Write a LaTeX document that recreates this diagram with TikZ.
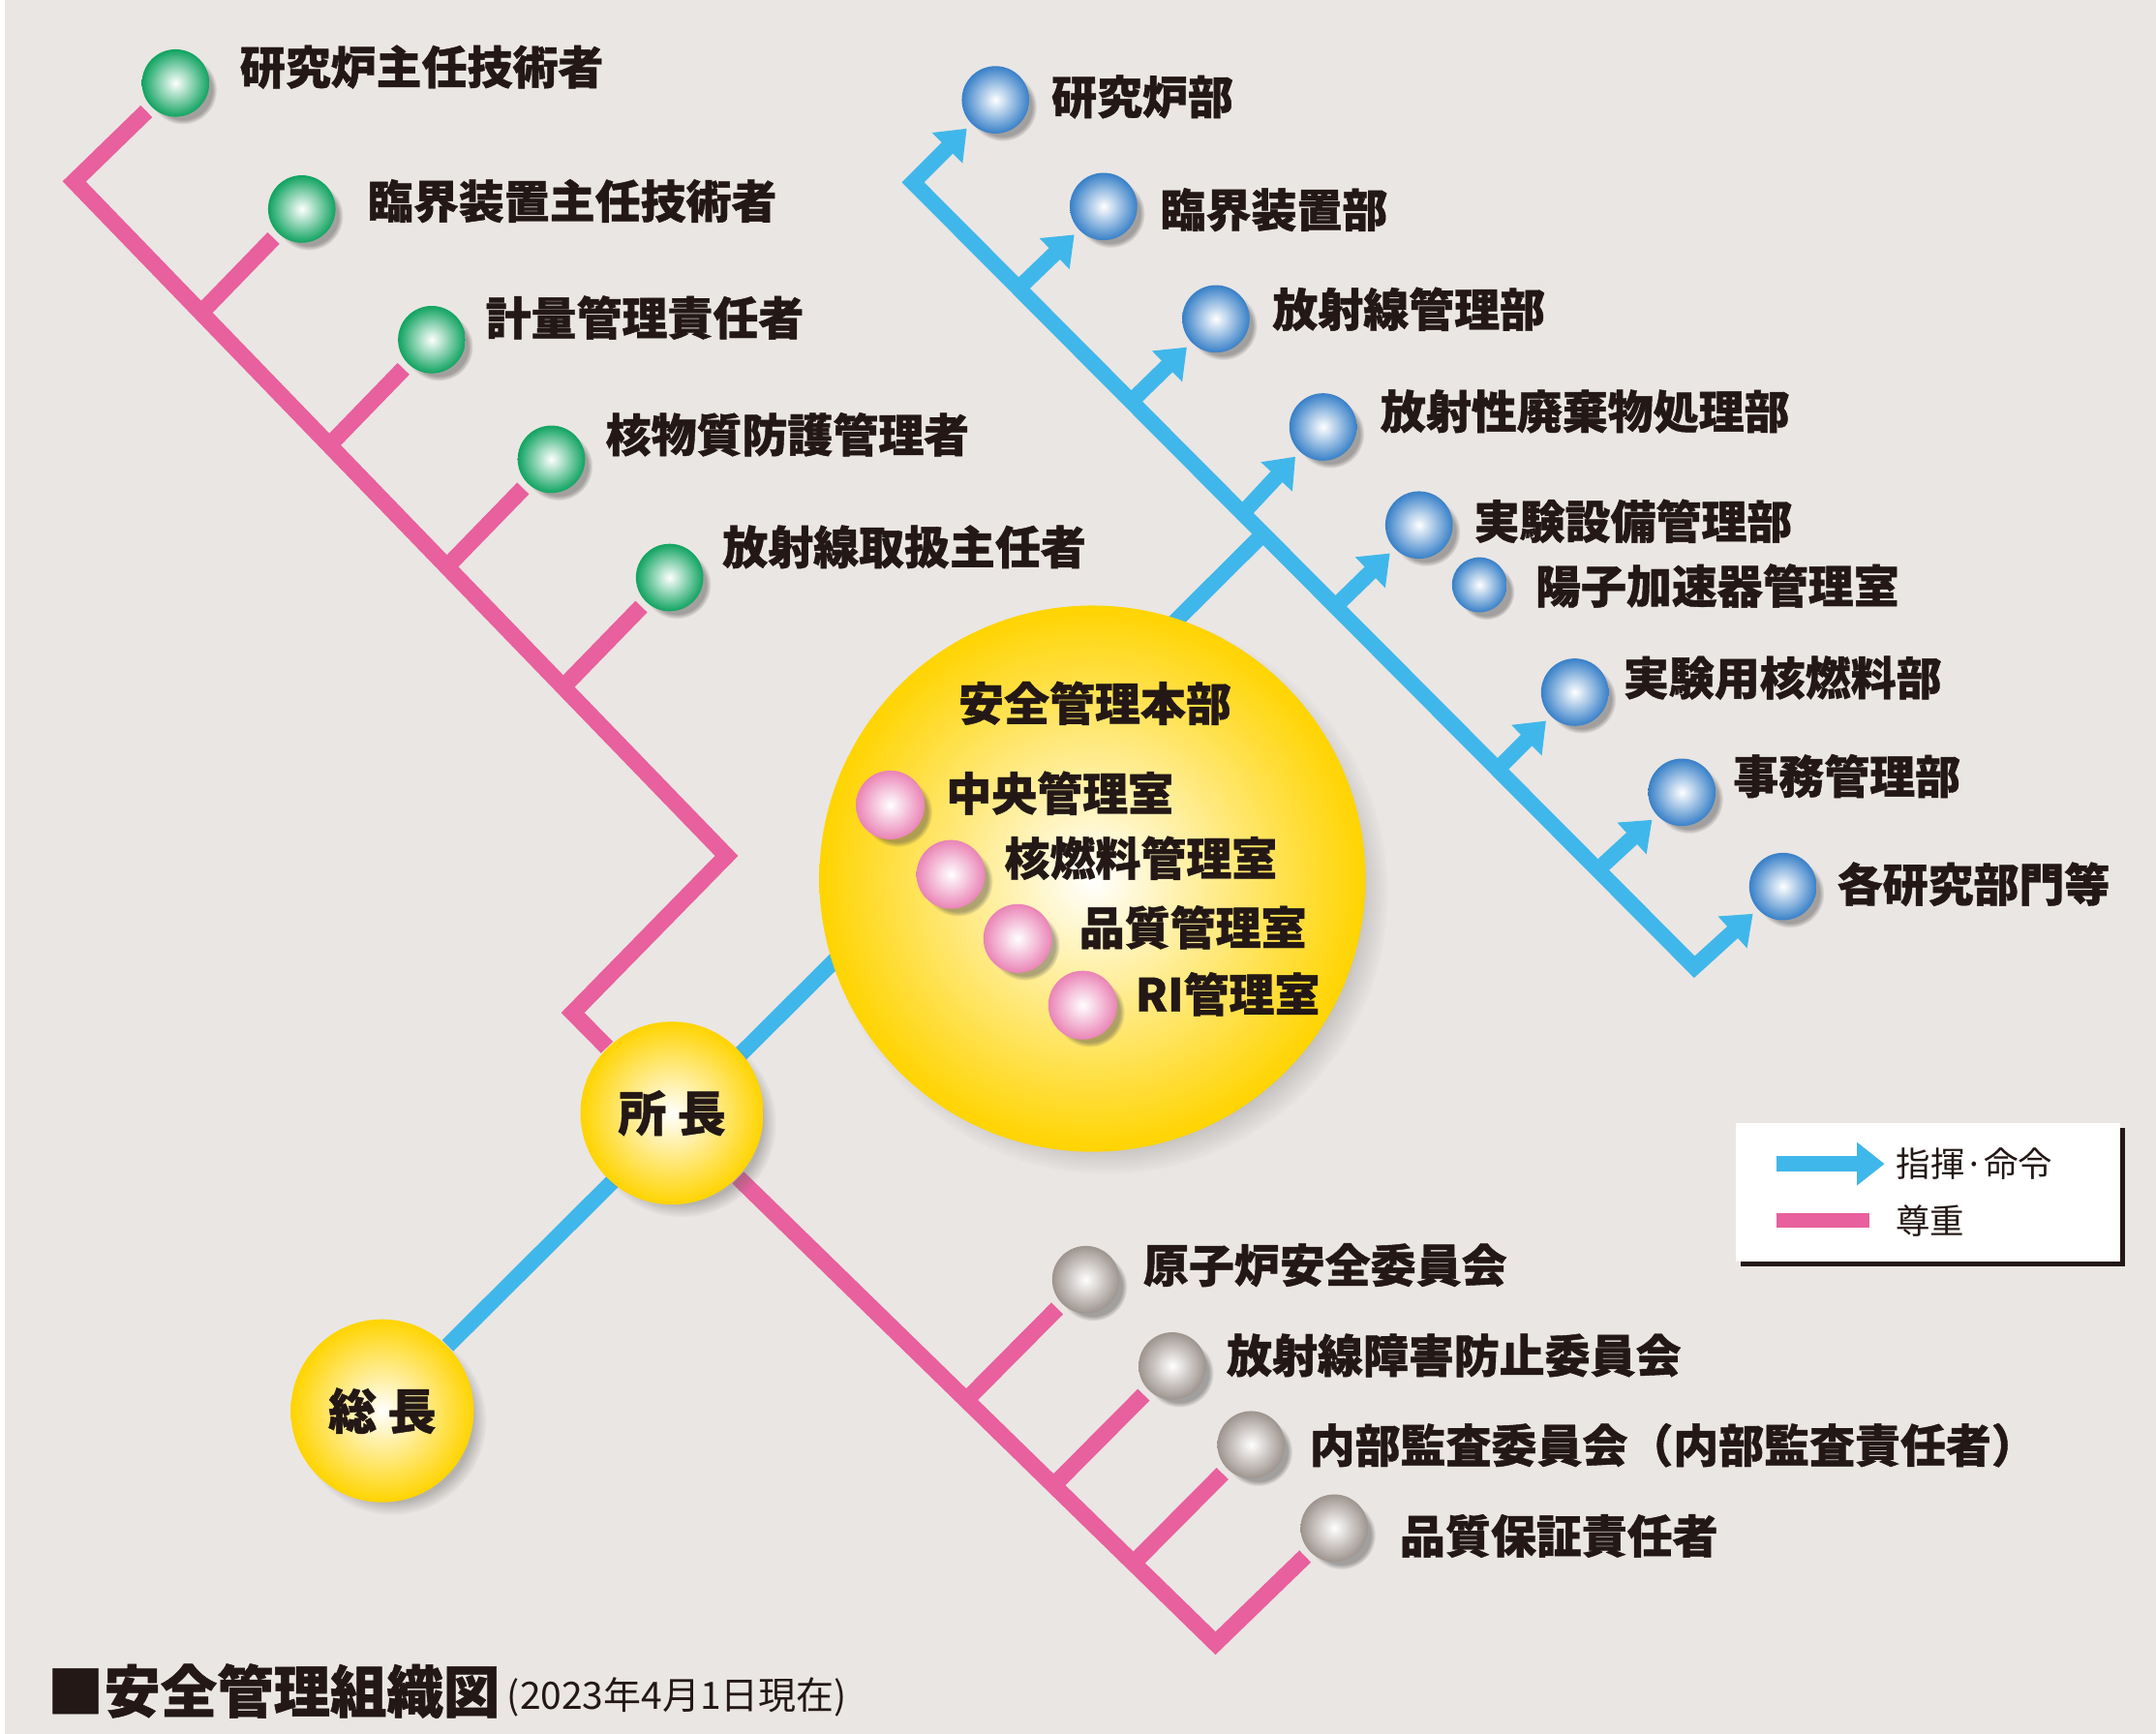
\documentclass[tikz,border=0pt]{standalone}
\usepackage{fontspec}
\usepackage{tikz}
\usetikzlibrary{positioning, arrows.meta, shadows, calc}
\newfontfamily\jpfont{Noto Sans CJK JP}[BoldFeatures={FakeBold=0.9}]
\definecolor{paper}{RGB}{234,230,227}
\definecolor{ink}{RGB}{35,24,21}
\definecolor{respectpink}{RGB}{232,96,157}
\definecolor{commandblue}{RGB}{64,183,234}
\definecolor{sunyellow}{RGB}{255,212,0}
\definecolor{ballgreen}{RGB}{16,163,96}
\definecolor{ballblue}{RGB}{56,128,200}
\definecolor{ballgray}{RGB}{158,148,142}
\definecolor{ballpink}{RGB}{234,132,182}
\pgfdeclarelayer{back}
\pgfdeclarelayer{wires}
\pgfsetlayers{back,wires,main}

\begin{document}
\begin{tikzpicture}[
    x=0.01cm, y=-0.01cm,
    ball/.style={circle, inner sep=0pt, outer sep=0.05cm, minimum size=0.49cm, inner color=white, outer color=#1,
      circular drop shadow={shadow xshift=0.05cm, shadow yshift=-0.05cm, shadow scale=1.02, fill=black!70, opacity=0.45}},
    chief/.style={circle, inner sep=0pt, minimum size=1.33cm, inner color=white, outer color=sunyellow,
      circular drop shadow={shadow xshift=0.07cm, shadow yshift=-0.07cm, shadow scale=1.03, fill=black!60, opacity=0.4},
      text=ink, font=\jpfont\bfseries\fontsize{10pt}{10pt}\selectfont},
    lbl/.style={anchor=west, inner sep=0pt, text=ink, font=\jpfont\bfseries\fontsize{9.4pt}{10pt}\selectfont},
    keytext/.style={anchor=west, inner sep=0pt, text=ink, font=\jpfont\fontsize{7.1pt}{8pt}\selectfont},
    respect/.style={draw=respectpink, line width=0.12cm},
    command/.style={draw=commandblue, line width=0.115cm},
    cmdarrow/.style={command, -{Triangle[length=0.2cm, width=0.3cm]}},
  ]
  \useasboundingbox (0,0) rectangle (1568,1261);
  \begin{pgfonlayer}{back}
    \fill[paper] (0,0) rectangle (1568,1261);
    \fill[white] (0,0) rectangle (3.6,1261);
  \end{pgfonlayer}

  \node[ball=ballgreen] (g1) at (127.7,60.4) {};
  \node[ball=ballgreen] (g2) at (219.5,152) {};
  \node[ball=ballgreen] (g3) at (314,247) {};
  \node[ball=ballgreen] (g4) at (401,334) {};
  \node[ball=ballgreen] (g5) at (487,420) {};
  \node[lbl] (tg1) at (173.8,48.7) {研究炉主任技術者};
  \node[lbl] (tg2) at (266.8,146.2) {臨界装置主任技術者};
  \node[lbl] (tg3) at (352.5,231) {計量管理責任者};
  \node[lbl] (tg4) at (439.8,316) {核物質防護管理者};
  \node[lbl] (tg5) at (524.7,397.7) {放射線取扱主任者};

  \node[ball=ballblue] (c1) at (724,72.6) {};
  \node[ball=ballblue] (c2) at (802.6,150.2) {};
  \node[ball=ballblue] (c3) at (884.3,231.9) {};
  \node[ball=ballblue] (c4) at (962.2,310.5) {};
  \node[ball=ballblue] (c5) at (1032,381.8) {};
  \node[ball=ballblue, minimum size=0.4cm] (c5s) at (1076,425.3) {};
  \node[ball=ballblue] (c6) at (1145.3,503.4) {};
  \node[ball=ballblue] (c7) at (1223.2,576.2) {};
  \node[ball=ballblue] (c8) at (1296.7,644.7) {};
  \node[lbl] (tc1) at (764,70.4) {研究炉部};
  \node[lbl] (tc2) at (843.2,152.6) {臨界装置部};
  \node[lbl] (tc3) at (924.7,224.8) {放射線管理部};
  \node[lbl] (tc4) at (1003.3,299.2) {放射性廃棄物処理部};
  \node[lbl] (tc5) at (1071.4,379) {実験設備管理部};
  \node[lbl] (tc5s) at (1116,426) {陽子加速器管理室};
  \node[lbl] (tc6) at (1180,492.9) {実験用核燃料部};
  \node[lbl] (tc7) at (1259.8,564.4) {事務管理部};
  \node[lbl] (tc8) at (1335.4,643) {各研究部門等};

  \node[circle, inner sep=0pt, minimum size=3.97cm, inner color=white, outer color=sunyellow,
    circular drop shadow={shadow xshift=0.1cm, shadow yshift=-0.1cm, shadow scale=1.03, fill=black!60, opacity=0.4}] (sec) at (794.5,639) {};
  \node[lbl, anchor=center] (tsec) at (796.3,511.4) {安全管理本部};
  \node[ball=ballpink, minimum size=0.5cm] (p1) at (647.5,585.4) {};
  \node[ball=ballpink, minimum size=0.5cm] (p2) at (691.5,635.9) {};
  \node[ball=ballpink, minimum size=0.5cm] (p3) at (740.2,682.5) {};
  \node[ball=ballpink, minimum size=0.5cm] (p4) at (787.4,731) {};
  \node[lbl] (tp1) at (687.4,576.8) {中央管理室};
  \node[lbl] (tp2) at (729.8,624) {核燃料管理室};
  \node[lbl] (tp3) at (784.2,674.4) {品質管理室};
  \node[lbl] (tp4) at (825.1,722.9) {RI管理室};

  \node[chief] (dir) at (488.7,809.5) {所 長};
  \node[chief] (pres) at (278,1026) {総 長};

  \node[ball=ballgray] (q1) at (789.7,930.6) {};
  \node[ball=ballgray] (q2) at (852.6,993.4) {};
  \node[ball=ballgray] (q3) at (909.9,1050.7) {};
  \node[ball=ballgray] (q4) at (970.4,1111.3) {};
  \node[lbl] (tq1) at (830.8,920) {原子炉安全委員会};
  \node[lbl] (tq2) at (891.4,985.7) {放射線障害防止委員会};
  \node[lbl] (tq3) at (951.7,1051) {内部監査委員会（内部監査責任者）};
  \node[lbl] (tq4) at (1017.4,1117) {品質保証責任者};

  \coordinate (ptl) at (54,132);
  \coordinate (ptr) at (528.4,622.4);
  \coordinate (pbl) at (416.6,736.5);
  \coordinate (pg2) at (146.3,227.4);
  \coordinate (pg3) at (239.5,323.8);
  \coordinate (pg4) at (325,412.2);
  \coordinate (pg5) at (409.6,499.6);
  \coordinate (pq1) at (702.7,1018.2);
  \coordinate (pq2) at (766.3,1080.2);
  \coordinate (pq3) at (824.3,1136.8);
  \coordinate (pbr) at (884,1195);
  \coordinate (btc) at (664,132.6);
  \coordinate (bbc) at (1232.3,703.2);
  \coordinate (bjn) at (919,388);
  \coordinate (bb2) at (740.8,209.7);
  \coordinate (bb3) at (822.7,291.9);
  \coordinate (bb4) at (903.7,373.3);
  \coordinate (bb5) at (971.2,441);
  \coordinate (bb6) at (1089.1,559.4);
  \coordinate (bb7) at (1162,632.6);

  \begin{pgfonlayer}{wires}
    \draw[respect] (g1) -- (ptl) -- (ptr) -- (pbl) -- (dir);
    \draw[respect] (pg2) -- (g2);
    \draw[respect] (pg3) -- (g3);
    \draw[respect] (pg4) -- (g4);
    \draw[respect] (pg5) -- (g5);
    \draw[respect] (dir) -- (pbr) -- (q4);
    \draw[respect] (pq1) -- (q1);
    \draw[respect] (pq2) -- (q2);
    \draw[respect] (pq3) -- (q3);
    \draw[command] (pres) -- (bjn);
    \draw[command, {Triangle[length=0.2cm, width=0.3cm]}-{Triangle[length=0.2cm, width=0.3cm]}] (c1) -- (btc) -- (bbc) -- (c8);
    \draw[cmdarrow] (bb2) -- (c2);
    \draw[cmdarrow] (bb3) -- (c3);
    \draw[cmdarrow] (bb4) -- (c4);
    \draw[cmdarrow] (bb5) -- (c5);
    \draw[cmdarrow] (bb6) -- (c6);
    \draw[cmdarrow] (bb7) -- (c7);
  \end{pgfonlayer}

  \node[fill=white, inner sep=0pt, minimum width=2.794cm, minimum height=1.005cm,
    drop shadow={shadow xshift=0.036cm, shadow yshift=-0.036cm, fill=ink, opacity=1}] (legend) at (1402.3,867) {};
  \coordinate (kc1) at (1292,846.4);
  \coordinate (kc2) at (1370.6,846.4);
  \coordinate (kr1) at (1292,887.8);
  \coordinate (kr2) at (1359.6,887.8);
  \draw[cmdarrow] (kc1) -- (kc2);
  \draw[respect, line width=0.105cm] (kr1) -- (kr2);
  \node[keytext] (kct) at (1378.3,846.1) {指揮·命令};
  \node[keytext] (krt) at (1378,887.8) {尊重};

  \node[anchor=west, inner sep=0pt, text=ink, font=\jpfont\bfseries\fontsize{11.7pt}{12pt}\selectfont] (title) at (33.7,1229.8) {■安全管理組織図};
  \node[anchor=west, inner sep=0pt, text=ink, font=\jpfont\fontsize{7.8pt}{8pt}\selectfont] (date) at (368.2,1234) {(2023年4月1日現在)};
\end{tikzpicture}
\end{document}
